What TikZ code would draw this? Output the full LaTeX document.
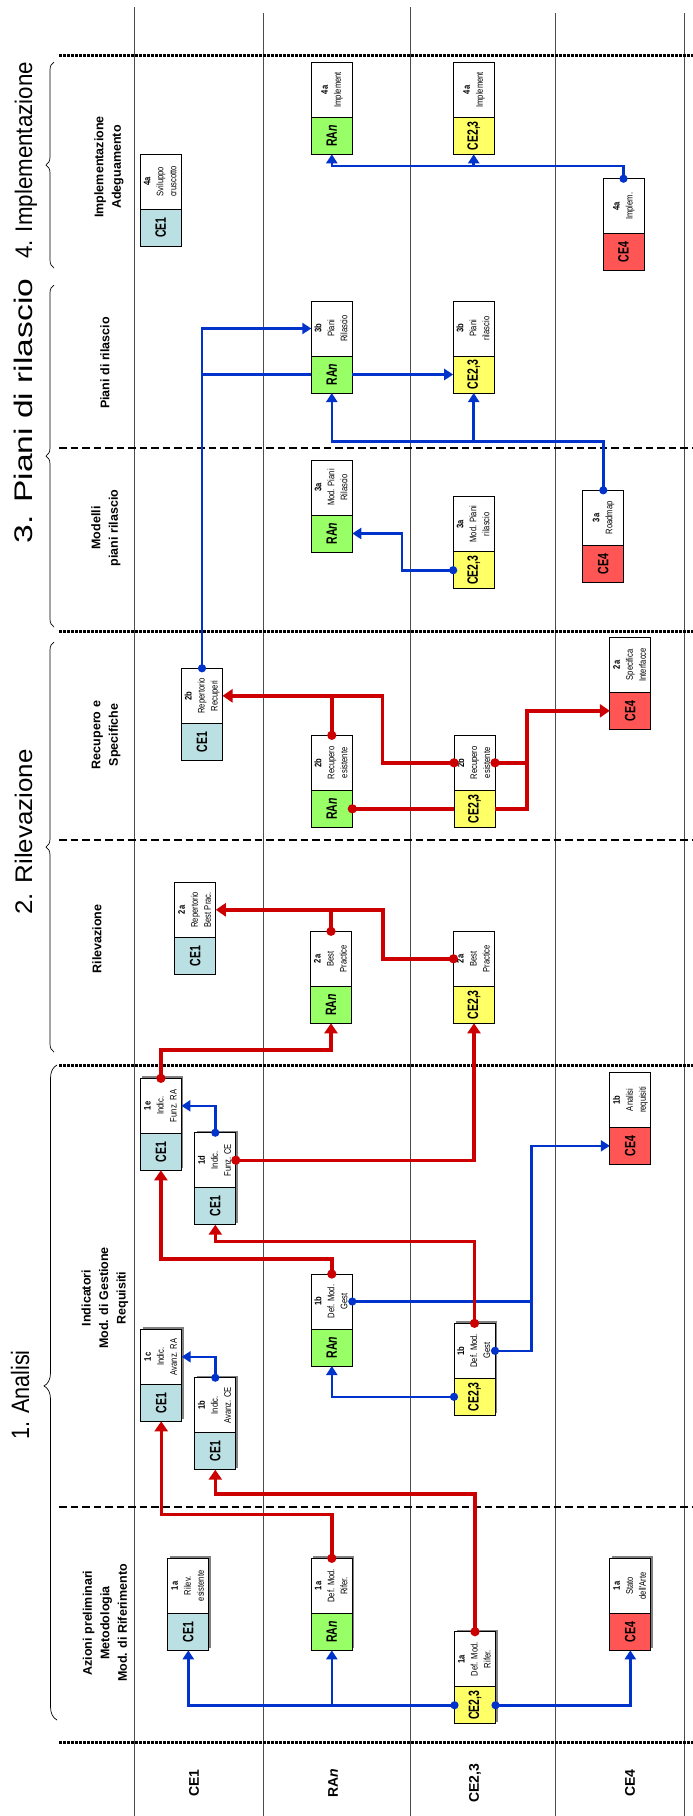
\documentclass[tikz,border=0pt]{standalone}
\usepackage{fontspec}
\setmainfont{Liberation Sans}
\newfontfamily\boxfont[FakeStretch=0.8]{Liberation Sans}
\newfontfamily\lanefont[FakeStretch=0.7]{Liberation Sans}
\usetikzlibrary{arrows.meta,decorations.pathreplacing,positioning}

\definecolor{ceone}{RGB}{187,224,227}
\definecolor{rangreen}{RGB}{153,255,102}
\definecolor{ceyellow}{RGB}{255,255,102}
\definecolor{cered}{RGB}{255,85,85}
\definecolor{flowblue}{RGB}{0,51,204}
\definecolor{flowred}{RGB}{204,0,0}
\definecolor{shade}{RGB}{128,128,128}

% task box: white text part on top of the coloured lane part
\newcommand\task[7][none]{%
  \path[fill=#1] (#3-18.5,#4-2) rectangle (#3+22.5,#4+90);
  \node[tasktop] (#2) at (#3,#4)
    {\rotatebox{90}{\begin{tabular}{@{}c@{}}#7\end{tabular}}};
  \node[#5, anchor=north] (#2_c) at (#2.south) {\rotatebox{90}{#6}};
}

\begin{document}
\begin{tikzpicture}[
  x=1pt, y=-1pt,
  tasktop/.style={draw, fill=white, line width=0.8pt, minimum width=41pt,
    minimum height=55pt, inner sep=0pt, outer sep=0pt, anchor=north,
    font=\boxfont\fontsize{9.5}{13}\selectfont},
  lane/.style={draw, line width=0.8pt, minimum width=41pt, minimum height=37pt,
    inner sep=0pt, outer sep=0pt, font=\lanefont\bfseries\fontsize{15}{15}\selectfont},
  ce1/.style={lane, fill=ceone},
  ran/.style={lane, fill=rangreen},
  ce23/.style={lane, fill=ceyellow},
  ce4/.style={lane, fill=cered},
  phase/.style={rotate=90, inner sep=0pt, anchor=base, font=\fontsize{24}{24}\selectfont},
  sublabel/.style={rotate=90, align=center, inner sep=0pt,
    font=\bfseries\fontsize{12.5}{17.5}\selectfont},
  lanehead/.style={rotate=90, inner sep=0pt, font=\bfseries\fontsize{14}{14}\selectfont},
  brace/.style={decorate, decoration={brace, amplitude=8pt}, line width=0.7pt},
  lanesep/.style={draw=black!70, line width=0.8pt},
  phaseline/.style={line width=3pt, dash pattern=on 2.7pt off 1.3pt},
  stepline/.style={line width=1.6pt, dash pattern=on 7.5pt off 4pt},
  bl/.style={draw=flowblue, line width=2.6pt},
  rd/.style={draw=flowred, line width=3.4pt},
  src/.style={{Circle[length=8pt]}-, shorten <=-4pt},
  dst/.style={-{Triangle[length=9pt,width=11pt]}},
  srcdst/.style={{Circle[length=8pt]}-{Triangle[length=9pt,width=11pt]}, shorten <=-4pt},
  rsrc/.style={{Circle[length=9pt]}-, shorten <=-4.5pt},
  rsrcdst/.style={{Circle[length=9pt]}-{Triangle[length=10pt,width=13pt]}, shorten <=-4.5pt}]

  \useasboundingbox[fill=white] (0,0) rectangle (693,1816);

  % lanes
  \draw[lanesep] (134,7) -- (134,1816);
  \draw[lanesep] (263,13) -- (263,1816);
  \draw[lanesep] (410.5,7) -- (410.5,1816);
  \draw[lanesep] (555.5,13) -- (555.5,1816);
  \draw[lanesep] (684.5,13) -- (684.5,1816);

  % phase separators
  \draw[phaseline] (59,55) -- (693,55);
  \draw[stepline] (59,447.7) -- (693,447.7);
  \draw[phaseline] (59,631.7) -- (693,631.7);
  \draw[stepline] (59,840) -- (693,840);
  \draw[phaseline] (59,1065.7) -- (693,1065.7);
  \draw[stepline] (59,1506.7) -- (693,1506.7);
  \draw[phaseline] (59,1742.7) -- (693,1742.7);

  % phases
  \node[phase] (p4) at (32,160.5) {\scalebox{0.93}[1]{4. Implementazione}};
  \node[phase] (p3) at (32,411) {\scalebox{1.4}[1.06]{3. Piani di rilascio}};
  \node[phase] (p2) at (32,832) {\scalebox{1.08}[1]{2. Rilevazione}};
  \node[phase] (p1) at (29,1395) {\scalebox{0.9}[1.05]{1. Analisi}};
  \draw[brace] (54,268) -- (54,62);
  \draw[brace] (54,627) -- (54,285);
  \draw[brace] (54,1052) -- (54,642);
  \draw[brace, decoration={amplitude=13pt, aspect=0.51}] (57,1720) -- (57,1065);

  \node[sublabel] (s4a) at (109,167) {Implementazione\\Adeguamento};
  \node[sublabel] (s3b) at (105,363) {Piani di rilascio};
  \node[sublabel] (s3a) at (106,528) {Modelli\\piani rilascio};
  \node[sublabel] (s2b) at (106,735) {Recupero e\\Specifiche};
  \node[sublabel] (s2a) at (97,939) {Rilevazione};
  \node[sublabel] (s1b) at (105,1298) {Indicatori\\Mod. di Gestione\\Requisiti};
  \node[sublabel] (s1a) at (105,1623) {Azioni preliminari\\Metodologia\\Mod. di Riferimento};

  \node[lanehead] (hce1) at (194,1783) {CE1};
  \node[lanehead] (hran) at (333,1783) {RA\textit{n}};
  \node[lanehead] (hce23) at (475,1783) {CE2,3};
  \node[lanehead] (hce4) at (630,1783) {CE4};

  % 1. Analisi
  \task[shade]{ce1_1a}{188.3}{1558.3}{ce1}{CE1}{\textbf{1a}\\Rilev.\\esistente}
  \task[shade]{ran_1a}{331.8}{1558.3}{ran}{RA\textit{n}}{\textbf{1a}\\Def. Mod.\\Rifer.}
  \task[shade]{ce23_1a}{475}{1631.7}{ce23}{CE2,3}{\textbf{1a}\\Def. Mod.\\Rifer.}
  \task[shade]{ce4_1a}{630.3}{1558.3}{ce4}{CE4}{\textbf{1a}\\Stato\\dell'Arte}
  \task[shade]{ce1_1c}{161.2}{1329.3}{ce1}{CE1}{\textbf{1c}\\Indic.\\Avanz. RA}
  \task[shade]{ce1_1b}{215.3}{1377.7}{ce1}{CE1}{\textbf{1b}\\Indic.\\Avanz. CE}
  \task[shade]{ce1_1e}{160.9}{1078.3}{ce1}{CE1}{\textbf{1e}\\Indic.\\Funz. RA}
  \task[shade]{ce1_1d}{215.3}{1132.7}{ce1}{CE1}{\textbf{1d}\\Indic.\\Funz. CE}
  \task{ran_1b}{331.8}{1274}{ran}{RA\textit{n}}{\textbf{1b}\\Def. Mod.\\Gest}
  \task[shade]{ce23_1b}{474.5}{1323.3}{ce23}{CE2,3}{\textbf{1b}\\Def. Mod.\\Gest}
  \task{ce4_1b}{630.3}{1072.3}{ce4}{CE4}{\textbf{1b}\\Analisi\\requisiti}

  % 2. Rilevazione
  \task{ce1_2a}{195.3}{882.3}{ce1}{CE1}{\textbf{2a}\\Repertorio\\Best Prac.}
  \task{ran_2a}{331}{931.3}{ran}{RA\textit{n}}{\textbf{2a}\\Best\\Practice}
  \task{ce23_2a}{474}{931.3}{ce23}{CE2,3}{\textbf{2a}\\Best\\Practice}
  \task{ce1_2b}{202}{668.3}{ce1}{CE1}{\textbf{2b}\\Repertorio\\Recuperi}
  \task{ran_2b}{331.8}{735.3}{ran}{RA\textit{n}}{\textbf{2b}\\Recupero\\esistente}
  \task{ce23_2b}{474.5}{735.3}{ce23}{CE2,3}{\textbf{2b}\\Recupero\\esistente}
  \task{ce4_2a}{630.3}{637.3}{ce4}{CE4}{\textbf{2a}\\Specifica\\Interfacce}

  % 3. Piani di rilascio
  \task{ran_3a}{331.8}{460}{ran}{RA\textit{n}}{\textbf{3a}\\Mod. Piani\\Rilascio}
  \task{ce23_3a}{473.7}{496.7}{ce23}{CE2,3}{\textbf{3a}\\Mod. Piani\\rilascio}
  \task{ce4_3a}{603.3}{490.3}{ce4}{CE4}{\textbf{3a}\\Roadmap}
  \task{ran_3b}{331.8}{301}{ran}{RA\textit{n}}{\textbf{3b}\\Piani\\Rilascio}
  \task{ce23_3b}{473.7}{301}{ce23}{CE2,3}{\textbf{3b}\\Piani\\rilascio}

  % 4. Implementazione
  \task{ce1_4a}{160.8}{154}{ce1}{CE1}{\textbf{4a}\\Sviluppo\\cruscotto}
  \task{ran_4a}{331.8}{62.3}{ran}{RA\textit{n}}{\textbf{4a}\\Implement}
  \task{ce23_4a}{473.7}{62.3}{ce23}{CE2,3}{\textbf{4a}\\Implement}
  \task{ce4_4a}{623.5}{178.7}{ce4}{CE4}{\textbf{4a}\\Implem.}

  % flows 1
  \draw[bl, srcdst] (ce23_1a_c.west) -| (ce1_1a_c.south);
  \draw[bl, dst] (ran_1a_c.south |- ce23_1a_c.west) -- (ran_1a_c.south);
  \draw[bl, srcdst] (ce23_1a_c.east) -| (ce4_1a_c.south);
  \draw[rd, rsrcdst] (ce23_1a.north) -- (ce23_1a.north |- 0,1494) -| (ce1_1b_c.south);
  \draw[rd, rsrcdst] (ran_1a.north) -- (ran_1a.north |- 0,1514.3) -| (ce1_1c_c.south);
  \draw[bl, srcdst] (ce1_1b.north) |- (ce1_1c.east);
  \draw[bl, srcdst] (ce23_1b_c.west) -| (ran_1b_c.south);
  \draw[bl, srcdst] (ran_1b.east) -- (ran_1b.east -| 531.6,0) |- (ce4_1b_c.west);
  \draw[bl, src] (ce23_1b.east) -| (531.6,1301.5);
  \draw[rd, rsrcdst] (ce23_1b.north) -- (ce23_1b.north |- 0,1241.7) -| (ce1_1d_c.south);
  \draw[rd, rsrcdst] (ce1_1d.east) -| (ce23_2a_c.south);
  \draw[rd, rsrcdst] (ran_1b.north) -- (ran_1b.north |- 0,1259) -| (ce1_1e_c.south);
  \draw[bl, srcdst] (ce1_1d.north) |- (ce1_1e.east);
  \draw[rd, rsrcdst] (ce1_1e.north) -- (ce1_1e.north |- 0,1050) -| (ran_2a_c.south);

  % flows 2
  \draw[rd, rsrcdst] (ran_2a.north) |- (ce1_2a.east);
  \draw[rd, rsrc] (ce23_2a.west) -| (383,909.8) -- (ran_2a.north |- ce1_2a.east);
  \draw[rd, rsrcdst] (ran_2b.north) |- (ce1_2b.east);
  \draw[rd, rsrc] (ce23_2b.west) -| (382.2,695.8) -- (ran_2b.north |- ce1_2b.east);
  \draw[rd, rsrcdst] (ce23_2b.east) -- (ce23_2b.east -| 527,0) |- (ce4_2a_c.west);
  \draw[rd, rsrc] (ran_2b_c.east) -- (ce23_2b_c.west);
  \draw[rd] (ce23_2b_c.east) -| (ce23_2b.east -| 527,0);

  % flows 3
  \draw[bl, srcdst] (ce1_2b.north) |- (ran_3b.west);
  \draw[bl] (ce1_2b.north |- ran_3b_c.west) -- (ran_3b_c.west);
  \draw[bl, dst] (ran_3b_c.east) -- (ce23_3b_c.west);
  \draw[bl, srcdst] (ce23_3a_c.west) -- (ce23_3a_c.west -| 402,0) |- (ran_3a_c.east);
  \draw[bl, srcdst] (ce4_3a.north) -- (ce4_3a.north |- 0,441.7) -| (ran_3b_c.south);
  \draw[bl, dst] (ce23_3b_c.south |- 0,441.7) -- (ce23_3b_c.south);

  % flows 4
  \draw[bl, srcdst] (ce4_4a.north) -- (ce4_4a.north |- 0,166) -| (ran_4a_c.south);
  \draw[bl, dst] (ce23_4a_c.south |- 0,166) -- (ce23_4a_c.south);

\end{tikzpicture}
\end{document}
